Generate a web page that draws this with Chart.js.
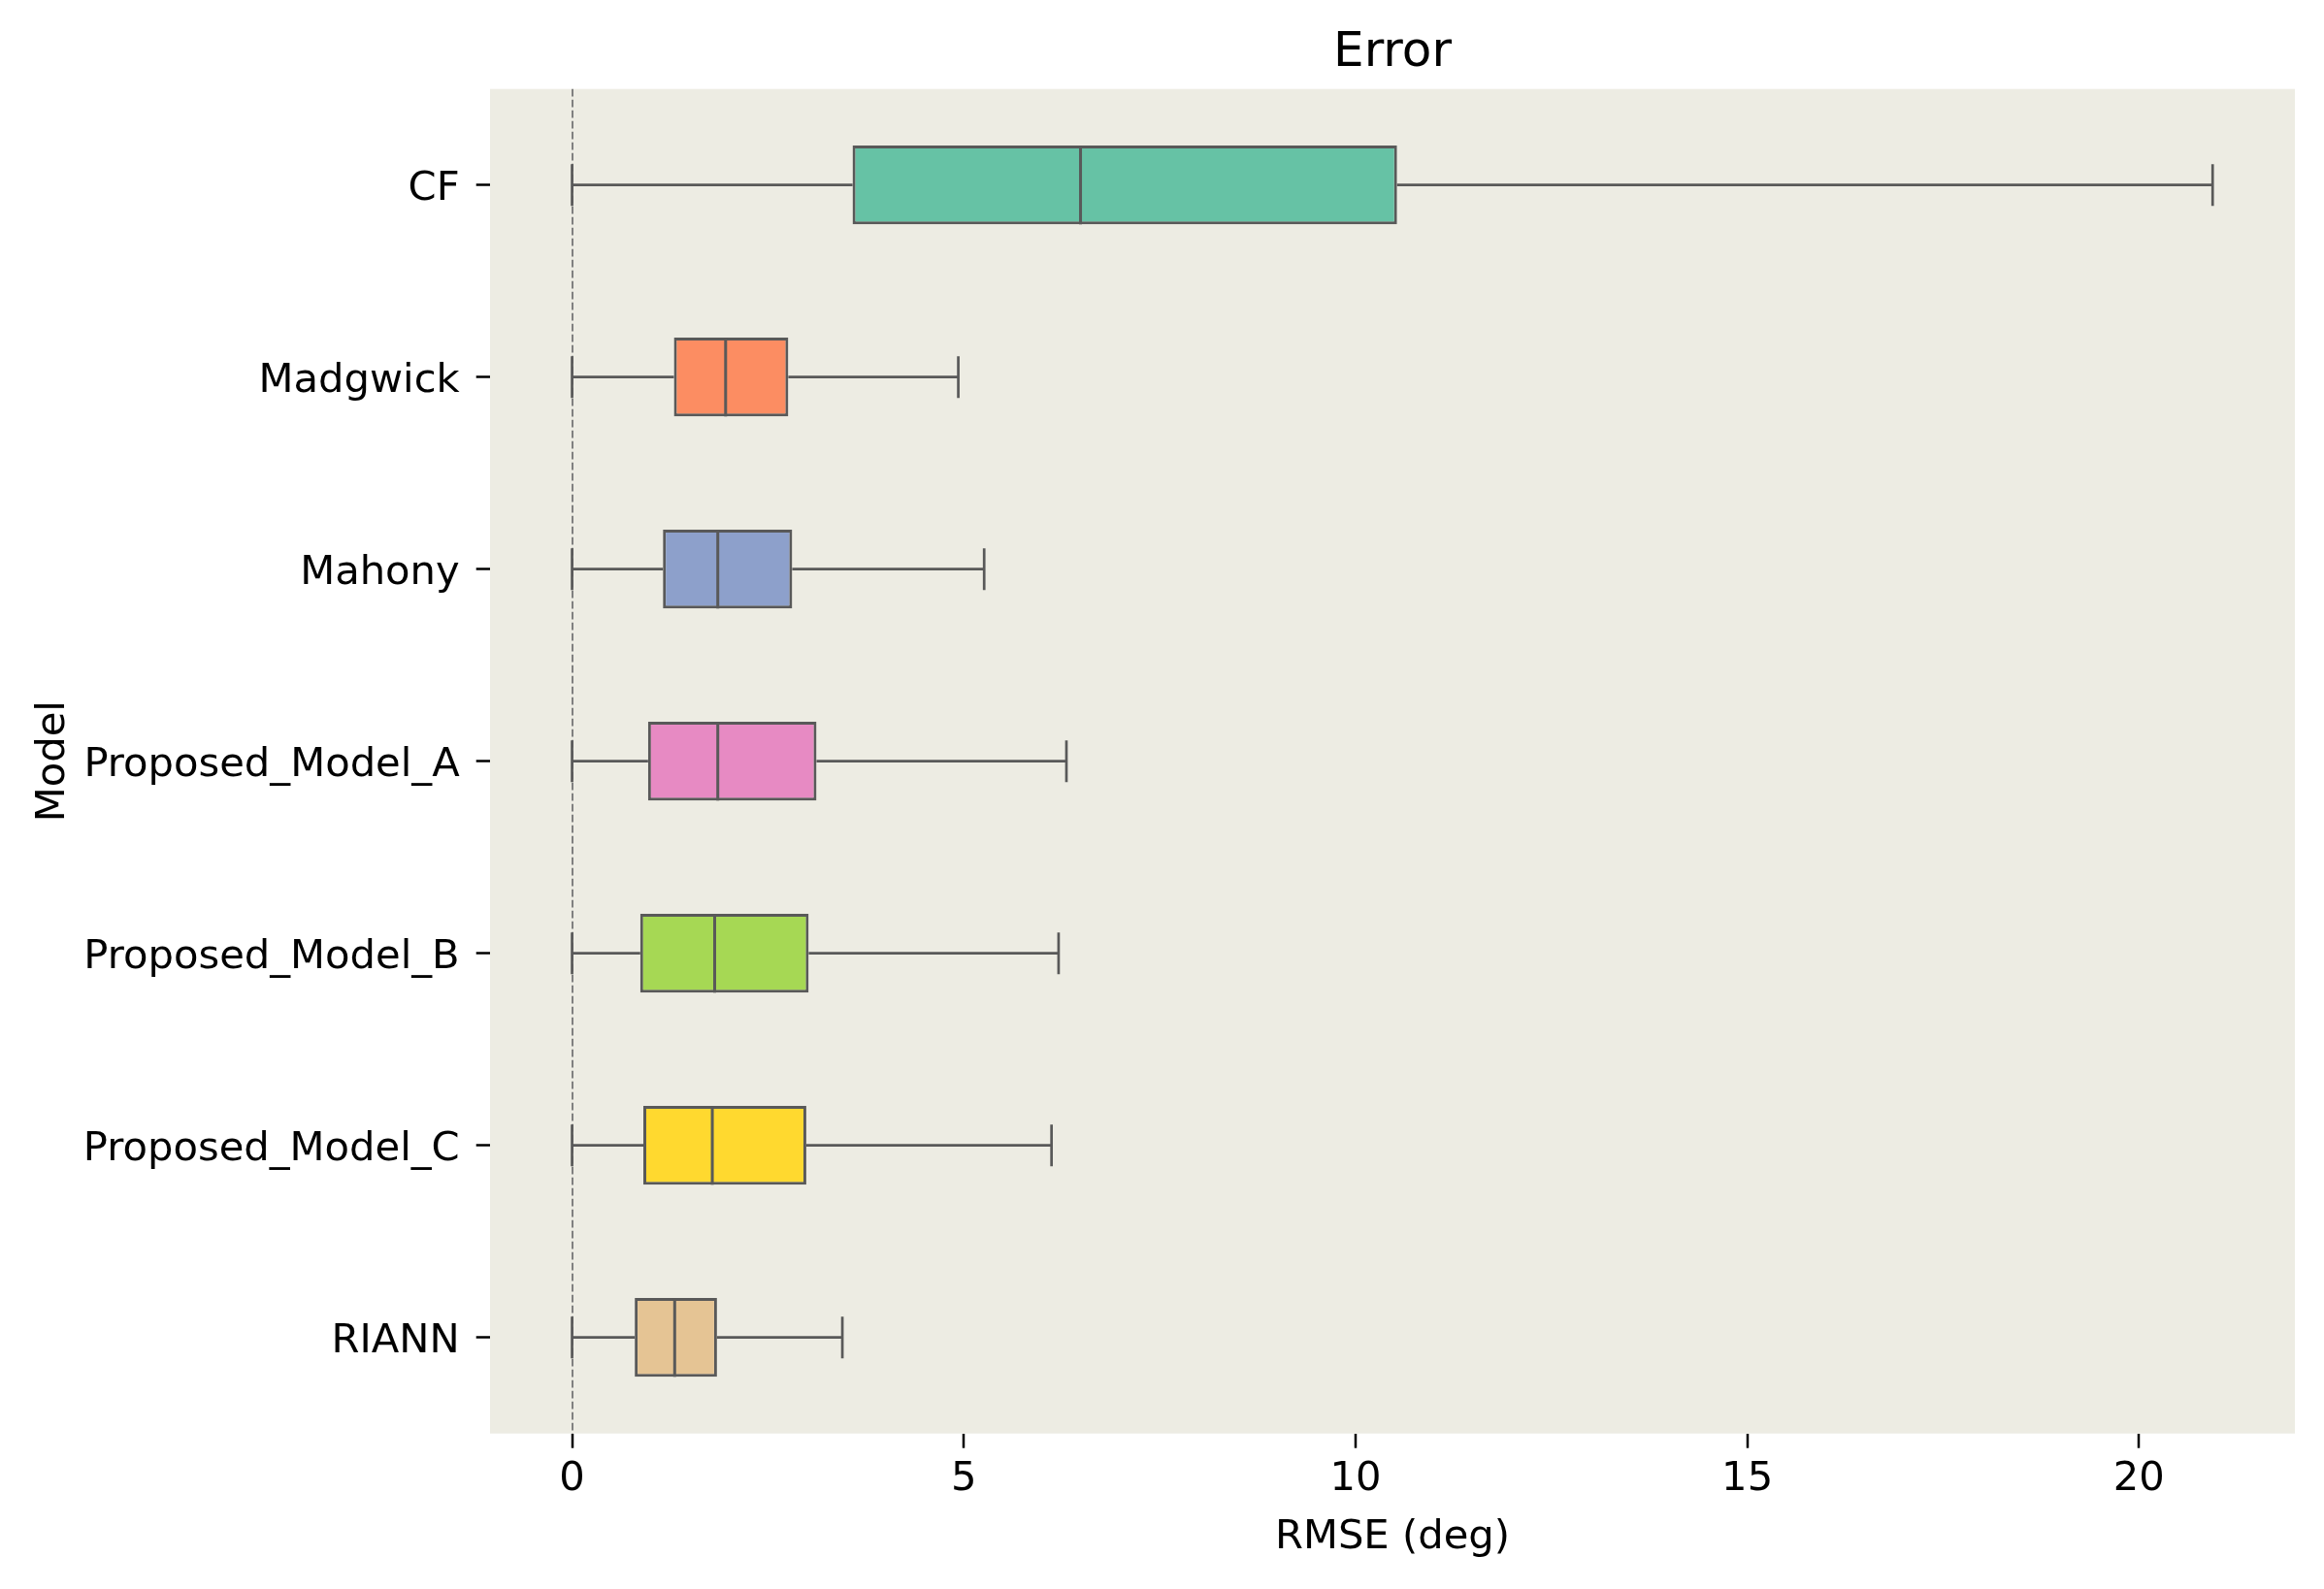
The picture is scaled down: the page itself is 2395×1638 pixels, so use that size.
<!DOCTYPE html>
<html>
<head>
  <meta charset="utf-8">
  <title>Error</title>
  <script src="https://cdn.jsdelivr.net/npm/chart.js"></script>
  <style>
    body { margin: 0; background: #fff; }
    #wrap { width: 2395px; height: 1638px; }
  </style>
</head>
<body>
<div id="wrap"><canvas id="boxChart" width="2395" height="1638"></canvas></div>

<script>
const models = ["CF", "Madgwick", "Mahony", "Proposed_Model_A", "Proposed_Model_B", "Proposed_Model_C", "RIANN"];
const whiskLow = [0, 0, 0, 0, 0, 0, 0];
const q1 = [3.58, 1.30, 1.16, 0.97, 0.87, 0.91, 0.80];
const median = [6.49, 1.96, 1.86, 1.86, 1.82, 1.79, 1.31];
const q3 = [10.53, 2.76, 2.81, 3.12, 3.02, 2.99, 1.85];
const whiskHigh = [20.94, 4.93, 5.26, 6.31, 6.21, 6.12, 3.45];
const xTicks = [0, 5, 10, 15, 20];
const boxColors = ["#66c2a5", "#fc8d62", "#8da0cb", "#e78ac3", "#a6d854", "#ffd92f", "#e5c494"];

const lineColor = "#595959";
const fontFamily = "'DejaVu Sans', sans-serif";

// beige plot background
const plotBg = {
  id: "plotBg",
  beforeDraw(chart) {
    const { ctx, chartArea: a } = chart;
    ctx.save();
    ctx.fillStyle = "#edece3";
    ctx.fillRect(a.left, a.top, a.right - a.left, a.bottom - a.top);
    ctx.restore();
  }
};

// whiskers, caps and medians, placed with the chart's x scale
const boxParts = {
  id: "boxParts",
  beforeDatasetsDraw(chart) {
    const { ctx } = chart;
    const x = chart.scales.x;
    const bars = chart.getDatasetMeta(0).data;
    ctx.save();
    ctx.strokeStyle = lineColor;
    ctx.lineWidth = 2.7;
    bars.forEach((bar, i) => {
      const { y, height } = bar.getProps(["y", "height"], true);
      const cap = height * 0.265;
      const xl = x.getPixelForValue(whiskLow[i]);
      const xq1 = x.getPixelForValue(q1[i]);
      const xq3 = x.getPixelForValue(q3[i]);
      const xh = x.getPixelForValue(whiskHigh[i]);
      ctx.beginPath();
      ctx.moveTo(xl, y); ctx.lineTo(xq1, y);
      ctx.moveTo(xq3, y); ctx.lineTo(xh, y);
      ctx.moveTo(xl, y - cap); ctx.lineTo(xl, y + cap);
      ctx.moveTo(xh, y - cap); ctx.lineTo(xh, y + cap);
      ctx.stroke();
    });
    ctx.restore();
  },
  afterDatasetsDraw(chart) {
    const { ctx } = chart;
    const x = chart.scales.x;
    const bars = chart.getDatasetMeta(0).data;
    ctx.save();
    ctx.strokeStyle = lineColor;
    ctx.lineWidth = 3;
    bars.forEach((bar, i) => {
      const { y, height } = bar.getProps(["y", "height"], true);
      const xm = x.getPixelForValue(median[i]);
      ctx.beginPath();
      ctx.moveTo(xm, y - height / 2);
      ctx.lineTo(xm, y + height / 2);
      ctx.stroke();
    });
    ctx.restore();
  }
};

new Chart(document.getElementById("boxChart"), {
  type: "bar",
  data: {
    labels: models,
    datasets: [{
      data: q1.map((v, i) => [v, q3[i]]),
      backgroundColor: boxColors,
      borderColor: lineColor,
      borderWidth: 3,
      borderSkipped: false,
      barPercentage: 0.41,
      categoryPercentage: 1
    }]
  },
  options: {
    indexAxis: "y",
    responsive: false,
    animation: false,
    layout: { padding: { left: 0, right: 30, top: 0, bottom: 0 } },
    plugins: {
      legend: { display: false },
      tooltip: { enabled: false },
      title: {
        display: true,
        fullSize: false,
        text: "Error",
        color: "#000",
        font: { family: fontFamily, size: 50, weight: "normal", lineHeight: 1.2 },
        padding: { top: 25, bottom: 6.7 }
      }
    },
    scales: {
      x: {
        type: "linear",
        min: -1.047,
        max: 21.99,
        afterBuildTicks(scale) { scale.ticks = xTicks.map(v => ({ value: v })); },
        afterFit(scale) { scale.height = 160.3; },
        border: { display: false, dash: [7.7, 3.3] },
        grid: {
          color: c => (c.tick && c.tick.value === 0 ? "#808080" : "rgba(0,0,0,0)"),
          lineWidth: 2,
          tickColor: "#000",
          tickWidth: 2.5,
          tickLength: 15,
          tickBorderDash: []
        },
        ticks: {
          color: "#000",
          padding: 7,
          font: { family: fontFamily, size: 41.7 }
        },
        title: {
          display: true,
          text: "RMSE (deg)",
          color: "#000",
          font: { family: fontFamily, size: 41.7, lineHeight: 1.2 },
          padding: { top: 0, bottom: 28 }
        }
      },
      y: {
        offset: true,
        afterFit(scale) { scale.width = 505; },
        border: { display: false },
        grid: {
          offset: false,
          drawOnChartArea: false,
          tickColor: "#000",
          tickWidth: 2.5,
          tickLength: 14.3
        },
        ticks: {
          color: "#000",
          padding: 17,
          labelOffset: 4,
          font: { family: fontFamily, size: 41.7 }
        },
        title: {
          display: true,
          text: "Model",
          color: "#000",
          font: { family: fontFamily, size: 41.7, lineHeight: 1.2 },
          padding: { top: 30, bottom: 0 }
        }
      }
    }
  },
  plugins: [plotBg, boxParts]
});
</script>
</body>
</html>
